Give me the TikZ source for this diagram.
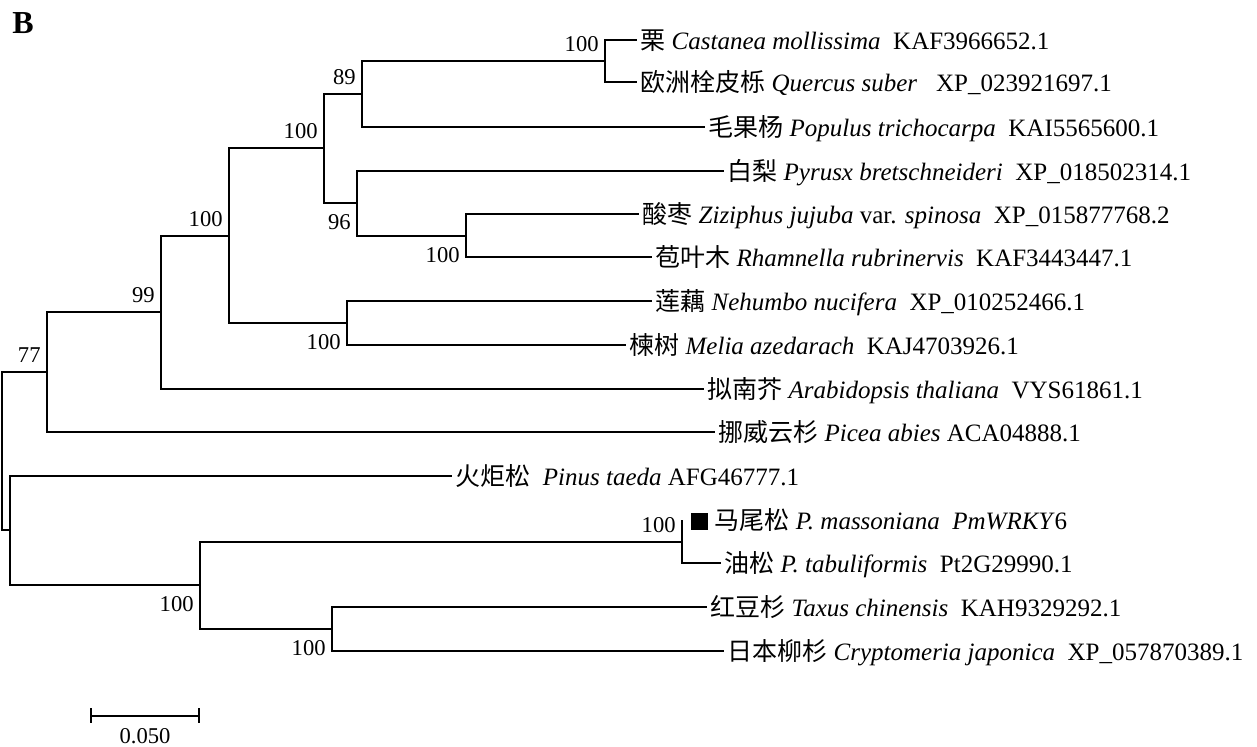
\documentclass[tikz,border=0pt]{standalone}
\usepackage{fontspec}
\setmainfont{Liberation Serif}
\newfontfamily\cjk{Noto Sans CJK SC}
\usetikzlibrary{positioning,calc}

\begin{document}
\begin{tikzpicture}[x=0.5pt, y=-0.5pt,
  br/.style={line width=1pt},
  leaf/.style={inner xsep=1.5pt, inner ysep=0pt, text height=11pt,
    text depth=1.6pt, font=\fontsize{12.5pt}{14pt}\selectfont},
  bs/.style={anchor=east, inner sep=0pt, font=\fontsize{11.3pt}{13pt}\selectfont},
  bsup/.style={bs, shift={(-6,-17)}},
  bsdn/.style={bs, shift={(-6,19)}},
]
\useasboundingbox (0,0) rectangle (1257,747);

% inner nodes of the tree
\coordinate (root) at (2,451);
\coordinate (n77) at (47,372);
\coordinate (n99) at (161,312);
\coordinate (nA) at (229,236);
\coordinate (nB) at (324,148);
\coordinate (n89) at (362,94);
\coordinate (nCQ) at (605,61);
\coordinate (n96) at (357,203);
\coordinate (nZR) at (466,236);
\coordinate (nNM) at (347,323);
\coordinate (nG) at (10,530);
\coordinate (nP) at (200,585);
\coordinate (nPP) at (682,542);
\coordinate (nTC) at (332,629);

% tips
\coordinate (lf1) at (637,40);
\coordinate (lf2) at (637,82);
\coordinate (lf3) at (705,127);
\coordinate (lf4) at (724,171);
\coordinate (lf5) at (639,214);
\coordinate (lf6) at (652,257);
\coordinate (lf7) at (652,301);
\coordinate (lf8) at (626,345);
\coordinate (lf9) at (704,389);
\coordinate (lf10) at (715,432);
\coordinate (lf11) at (452,476);
\coordinate (lf12) at (682,520);
\coordinate (lf13) at (721,563);
\coordinate (lf14) at (707,607);
\coordinate (lf15) at (724,651);

% branches
\draw[br] (root) |- (n77) (root) |- (nG);
\draw[br] (n77) |- (n99) (n77) |- (lf10);
\draw[br] (n99) |- (nA) (n99) |- (lf9);
\draw[br] (nA) |- (nB) (nA) |- (nNM);
\draw[br] (nB) |- (n89) (nB) |- (n96);
\draw[br] (n89) |- (nCQ) (n89) |- (lf3);
\draw[br] (nCQ) |- (lf1) (nCQ) |- (lf2);
\draw[br] (n96) |- (lf4) (n96) |- (nZR);
\draw[br] (nZR) |- (lf5) (nZR) |- (lf6);
\draw[br] (nNM) |- (lf7) (nNM) |- (lf8);
\draw[br] (nG) |- (lf11) (nG) |- (nP);
\draw[br] (nP) |- (nPP) (nP) |- (nTC);
\draw[br] (nPP) |- (lf12) (nPP) |- (lf13);
\draw[br] (nTC) |- (lf14) (nTC) |- (lf15);

% bootstrap values
\node[bsup] (bCQ) at (nCQ) {100};
\node[bsup] (b89) at (n89) {89};
\node[bsup] (bB) at (nB) {100};
\node[bsdn] (b96) at (n96) {96};
\node[bsdn] (bZR) at (nZR) {100};
\node[bsup] (bA) at (nA) {100};
\node[bsdn] (bNM) at (nNM) {100};
\node[bsup] (b99) at (n99) {99};
\node[bsup] (b77) at (n77) {77};
\node[bsdn] (bP) at (nP) {100};
\node[bsdn] (bTC) at (nTC) {100};
\node[bsup] (bPP) at (nPP) {100};

% tip labels
\node[leaf, right=0pt of lf1] (t1) {{\cjk 栗} \textit{Castanea mollissima}\ \ KAF3966652.1};
\node[leaf, right=0pt of lf2] (t2) {{\cjk 欧洲栓皮栎} \textit{Quercus suber}\ \ \ XP\_023921697.1};
\node[leaf, right=0pt of lf3] (t3) {{\cjk 毛果杨} \textit{Populus trichocarpa}\ \ KAI5565600.1};
\node[leaf, right=0pt of lf4] (t4) {{\cjk 白梨} \textit{Pyrusx bretschneideri}\ \ XP\_018502314.1};
\node[leaf, right=0pt of lf5] (t5) {{\cjk 酸枣} \textit{Ziziphus jujuba} var. \textit{spinosa}\ \ XP\_015877768.2};
\node[leaf, right=0pt of lf6] (t6) {{\cjk 苞叶木} \textit{Rhamnella rubrinervis}\ \ KAF3443447.1};
\node[leaf, right=0pt of lf7] (t7) {{\cjk 莲藕} \textit{Nehumbo nucifera}\ \ XP\_010252466.1};
\node[leaf, right=0pt of lf8] (t8) {{\cjk 楝树} \textit{Melia azedarach}\ \ KAJ4703926.1};
\node[leaf, right=0pt of lf9] (t9) {{\cjk 拟南芥} \textit{Arabidopsis thaliana}\ \ VYS61861.1};
\node[leaf, right=0pt of lf10] (t10) {{\cjk 挪威云杉} \textit{Picea abies} ACA04888.1};
\node[leaf, right=0pt of lf11] (t11) {{\cjk 火炬松}\ \ \textit{Pinus taeda} AFG46777.1};
\node[leaf, right=3pt of lf12] (t12) {\raisebox{-0.5pt}{\rule{8.5pt}{8.5pt}} {\cjk 马尾松} \textit{P. massoniana}\ \ \textit{PmWRKY}6};
\node[leaf, right=0pt of lf13] (t13) {{\cjk 油松} \textit{P. tabuliformis}\ \ Pt2G29990.1};
\node[leaf, right=0pt of lf14] (t14) {{\cjk 红豆杉} \textit{Taxus chinensis}\ \ KAH9329292.1};
\node[leaf, right=0pt of lf15] (t15) {{\cjk 日本柳杉} \textit{Cryptomeria japonica}\ \ XP\_057870389.1};

% scale bar
\coordinate (sbl) at (91,716);
\coordinate (sbr) at (199,716);
\draw[br] (sbl) -- (sbr);
\draw[br] ($(sbl)+(0,-8)$) -- ($(sbl)+(0,7)$);
\draw[br] ($(sbr)+(0,-8)$) -- ($(sbr)+(0,7)$);
\node[bs, anchor=north] (sbtxt) at ($(sbl)!0.5!(sbr)+(0,12)$) {0.050};

% panel letter
\node[inner sep=0pt, font=\fontsize{16pt}{18pt}\selectfont\bfseries] (panel) at (23,23) {B};
\end{tikzpicture}
\end{document}
